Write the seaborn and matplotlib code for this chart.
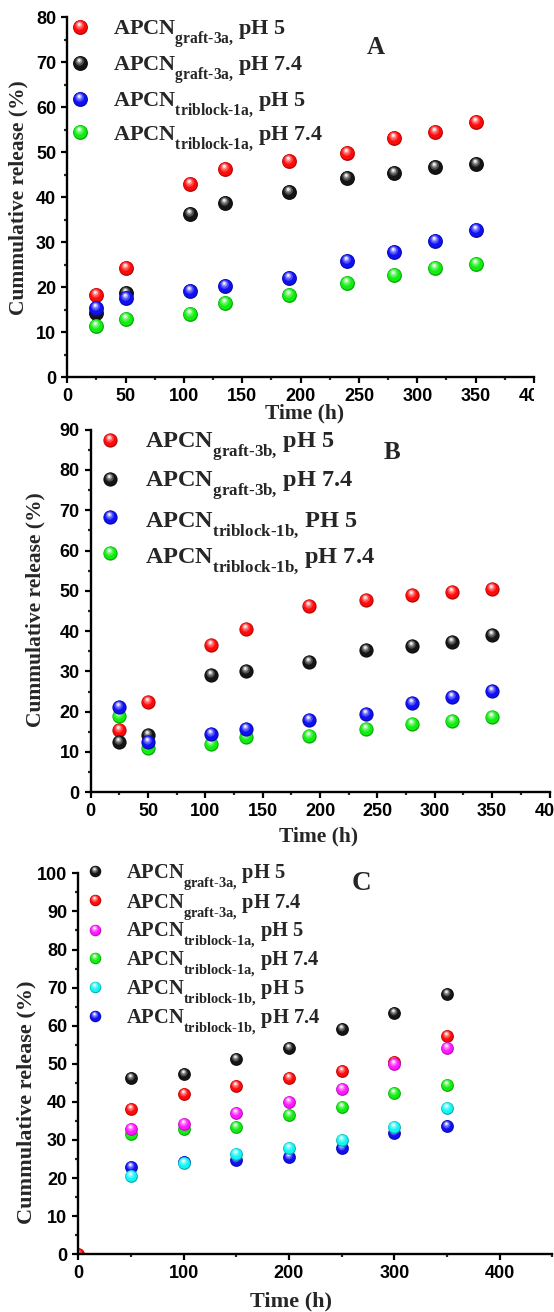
import matplotlib
matplotlib.use("Agg")
import matplotlib.pyplot as plt
import numpy as np
import pandas as pd
import seaborn as sns
from matplotlib import _mathtext
from matplotlib.path import Path
from matplotlib.markers import MarkerStyle
from matplotlib.colors import to_rgb
from matplotlib.ticker import MultipleLocator
from matplotlib.transforms import Bbox, TransformedBbox

# ---------------- data ----------------
# Panel A: APCN graft-3a / triblock-1a
time_a = [25, 50, 105, 135, 190, 240, 280, 315, 350]
a_graft3a_ph5 = [18.2, 24.2, 42.9, 46.2, 48.1, 49.9, 53.1, 54.4, 56.8]
a_graft3a_ph74 = [14.2, 18.7, 36.4, 38.8, 41.1, 44.3, 45.3, 46.7, 47.5]
a_triblock1a_ph5 = [15.3, 17.7, 19.2, 20.4, 22.0, 25.9, 27.9, 30.3, 32.7]
a_triblock1a_ph74 = [11.5, 12.9, 14.1, 16.6, 18.4, 21.0, 22.7, 24.4, 25.1]
labels_a = [r"APCN$_{\text{graft-3a,}}$ pH 5",
            r"APCN$_{\text{graft-3a,}}$ pH 7.4",
            r"APCN$_{\text{triblock-1a,}}$ pH 5",
            r"APCN$_{\text{triblock-1a,}}$ pH 7.4"]

# Panel B: APCN graft-3b / triblock-1b
time_b = [25, 50, 105, 135, 190, 240, 280, 315, 350]
b_graft3b_ph5 = [15.5, 22.5, 36.5, 40.6, 46.3, 47.7, 49.0, 49.7, 50.4]
b_graft3b_ph74 = [12.4, 14.2, 29.1, 30.2, 32.3, 35.3, 36.4, 37.4, 39.0]
b_triblock1b_ph5 = [21.2, 12.6, 14.4, 15.8, 17.9, 19.4, 22.1, 23.6, 25.1]
b_triblock1b_ph74 = [19.0, 10.9, 12.1, 13.6, 14.0, 15.8, 16.9, 17.8, 18.6]
labels_b = [r"APCN$_{\text{graft-3b,}}$ pH 5",
            r"APCN$_{\text{graft-3b,}}$ pH 7.4",
            r"APCN$_{\text{triblock-1b,}}$ PH 5",
            r"APCN$_{\text{triblock-1b,}}$ pH 7.4"]

# Panel C: comparison of all networks
time_c = [50, 100, 150, 200, 250, 300, 350]
time_c0 = [0, 50, 100, 150, 200, 250, 300, 350]
c_graft3a_ph5 = [46.3, 47.4, 51.2, 54.2, 59.1, 63.3, 68.2]
c_graft3a_ph74 = [0.0, 38.2, 42.2, 44.2, 46.2, 48.2, 50.6, 57.3]
c_triblock1a_ph5 = [32.8, 34.2, 37.0, 40.1, 43.5, 49.9, 54.2]
c_triblock1a_ph74 = [31.7, 33.0, 33.3, 36.5, 38.6, 42.3, 44.4]
c_triblock1b_ph5 = [20.6, 23.9, 26.3, 27.8, 30.0, 33.4, 38.5]
c_triblock1b_ph74 = [22.9, 24.2, 24.7, 25.5, 28.0, 31.9, 33.8]
labels_c = [r"APCN$_{\text{graft-3a,}}$ pH 5",
            r"APCN$_{\text{graft-3a,}}$ pH 7.4",
            r"APCN$_{\text{triblock-1a,}}$ pH 5",
            r"APCN$_{\text{triblock-1a,}}$ pH 7.4",
            r"APCN$_{\text{triblock-1b,}}$ pH 5",
            r"APCN$_{\text{triblock-1b,}}$ pH 7.4"]

RED, BLACK, BLUE, GREEN = "#ff0a0a", "#151515", "#1010f5", "#10ee10"
MAGENTA, CYAN = "#ff18ff", "#10f5f5"

# ---------------- style ----------------
sns.set_style("ticks")
plt.rcParams["font.family"] = ["Liberation Serif", "DejaVu Serif"]
plt.rcParams["font.weight"] = "bold"
plt.rcParams["axes.labelweight"] = "bold"
plt.rcParams["mathtext.fontset"] = "custom"
plt.rcParams["mathtext.rm"] = "Liberation Serif:bold"
plt.rcParams["mathtext.it"] = "Liberation Serif:bold"
plt.rcParams["mathtext.bf"] = "Liberation Serif:bold"
# drop subscripts a little deeper below the baseline
_mathtext.FontConstantsBase.sub1 = 0.9

W, H = 554, 1312
fig = plt.figure(figsize=(W / 100, H / 100), dpi=100, facecolor="white")


def px_rect(x0, y0, x1, y1):
    """Axes rectangle from pixel corners (top-left origin)."""
    return [x0 / W, 1 - y1 / H, (x1 - x0) / W, (y1 - y0) / H]


def fig_xy(x, y):
    return x / W, 1 - y / H


def ball_marker(r, cx, cy):
    circ = Path.circle((cx, cy), r)
    anchor = Path([(-1.0, -1.0), (1.0, 1.0)], [Path.MOVETO, Path.MOVETO])
    return MarkerStyle(Path.make_compound_path(circ, anchor))


# shading layers: radius, centre offset, mix toward white (<0 darkens)
LAYERS = [(1.00, 0.00, 0.00, -0.30),
          (0.88, -0.04, 0.07, 0.00),
          (0.58, -0.12, 0.28, 0.25),
          (0.38, -0.15, 0.36, 0.55),
          (0.20, -0.17, 0.42, 0.92)]


def shade(color, mix):
    c = np.array(to_rgb(color))
    if mix < 0:
        return tuple(c * (1 + mix))
    return tuple(c + (1 - c) * mix)


def ball(ax, x, y, color, size):
    handles = []
    for r, cx, cy, mix in LAYERS:
        sns.scatterplot(x=x, y=y, ax=ax, marker=ball_marker(r, cx, cy), s=size,
                        color=shade(color, mix), linewidth=0, legend=False)
        handles.append(ax.collections[-1])
    return tuple(handles)


def style_axes(ax, xlim, ylim, xmaj, xmin, ymaj, ymin):
    ax.set_xlim(*xlim)
    ax.set_ylim(*ylim)
    ax.xaxis.set_major_locator(MultipleLocator(xmaj))
    ax.xaxis.set_minor_locator(MultipleLocator(xmin))
    ax.yaxis.set_major_locator(MultipleLocator(ymaj))
    ax.yaxis.set_minor_locator(MultipleLocator(ymin))
    sns.despine(ax=ax)
    for s in ("left", "bottom"):
        ax.spines[s].set_linewidth(1.7)
        ax.spines[s].set_color("black")
    ax.tick_params(which="major", direction="out", length=4, width=1.6,
                   labelsize=13, pad=4, labelfontfamily="Liberation Sans",
                   colors="black")
    ax.tick_params(which="minor", direction="out", length=2.4, width=1.6)
    ax.set_facecolor("white")


def labels(ax, ylab_xy, xlab_xy, size):
    ax.set_ylabel("Cummulative release (%)", fontsize=size, va="center", ha="center")
    ax.yaxis.set_label_coords(*fig_xy(*ylab_xy), transform=fig.transFigure)
    ax.set_xlabel("Time (h)", fontsize=size, va="center", ha="center")
    ax.xaxis.set_label_coords(*fig_xy(*xlab_xy), transform=fig.transFigure)


def legend(ax, handles, labs, top_left, fs, pad, spacing, mscale=1.0):
    ax.legend(handles=list(handles), labels=labs, loc="upper left",
              bbox_to_anchor=fig_xy(*top_left), bbox_transform=fig.transFigure,
              frameon=False, fontsize=fs, handlelength=1.0, handletextpad=pad,
              labelspacing=spacing, borderpad=0, borderaxespad=0,
              scatteryoffsets=[0.5], markerscale=mscale)


# ---------------- panel A ----------------
ax_a = fig.add_axes(px_rect(67.3, 17.3, 534, 377.3))
style_axes(ax_a, (0, 400), (0, 80), 50, 25, 10, 5)
sa = 115
ha = [ball(ax_a, time_a, a_graft3a_ph5, RED, sa),
      ball(ax_a, time_a, a_graft3a_ph74, BLACK, sa),
      None, None]
ha[3] = ball(ax_a, time_a, a_triblock1a_ph74, GREEN, sa)
ha[2] = ball(ax_a, time_a, a_triblock1a_ph5, BLUE, sa)
labels(ax_a, (18, 197.5), (305, 413), 15.5)
legend(ax_a, ha, labels_a, (69, 18), 16, 1.0, 0.22)
fig.text(*fig_xy(376, 48), "A", fontsize=18, ha="center", va="center")
# the panel is cut at the end of its x axis
clip_a = TransformedBbox(Bbox.from_extents(0, 0, 534 / W, 1), fig.transFigure)
for lbl in ax_a.get_xticklabels():
    lbl.set_clip_box(clip_a)
    lbl.set_clip_on(True)

# ---------------- panel B ----------------
ax_b = fig.add_axes(px_rect(90.8, 429.6, 549.5, 792.3))
style_axes(ax_b, (0, 400), (0, 90), 50, 25, 10, 5)
sb = 105
hb = [ball(ax_b, time_b, b_graft3b_ph5, RED, sb),
      ball(ax_b, time_b, b_graft3b_ph74, BLACK, sb),
      None, None]
hb[3] = ball(ax_b, time_b, b_triblock1b_ph74, GREEN, sb)
hb[2] = ball(ax_b, time_b, b_triblock1b_ph5, BLUE, sb)
labels(ax_b, (35.6, 610), (319, 836.7), 15.5)
legend(ax_b, hb, labels_b, (98, 431), 17.5, 0.93, 0.22)
fig.text(*fig_xy(391.5, 452.7), "B", fontsize=18, ha="center", va="center")

# ---------------- panel C ----------------
ax_c = fig.add_axes(px_rect(78.3, 873.3, 552.3, 1254.3))
style_axes(ax_c, (0, 450), (0, 100), 100, 50, 10, 5)
sc = 85
hc = [None] * 6
hc[0] = ball(ax_c, time_c, c_graft3a_ph5, BLACK, sc)
hc[1] = ball(ax_c, time_c0, c_graft3a_ph74, RED, sc)
hc[3] = ball(ax_c, time_c, c_triblock1a_ph74, GREEN, sc)
hc[2] = ball(ax_c, time_c, c_triblock1a_ph5, MAGENTA, sc)
hc[5] = ball(ax_c, time_c, c_triblock1b_ph74, BLUE, sc)
hc[4] = ball(ax_c, time_c, c_triblock1b_ph5, CYAN, sc)
labels(ax_c, (26.5, 1102.5), (291.5, 1301.7), 16)
legend(ax_c, hc, labels_c, (84.6, 863), 14.8, 1.0, -0.02, mscale=0.9)
fig.text(*fig_xy(361, 883.3), "C", fontsize=19.5, ha="center", va="center")

fig.savefig("out.png", dpi=100, facecolor="white")
